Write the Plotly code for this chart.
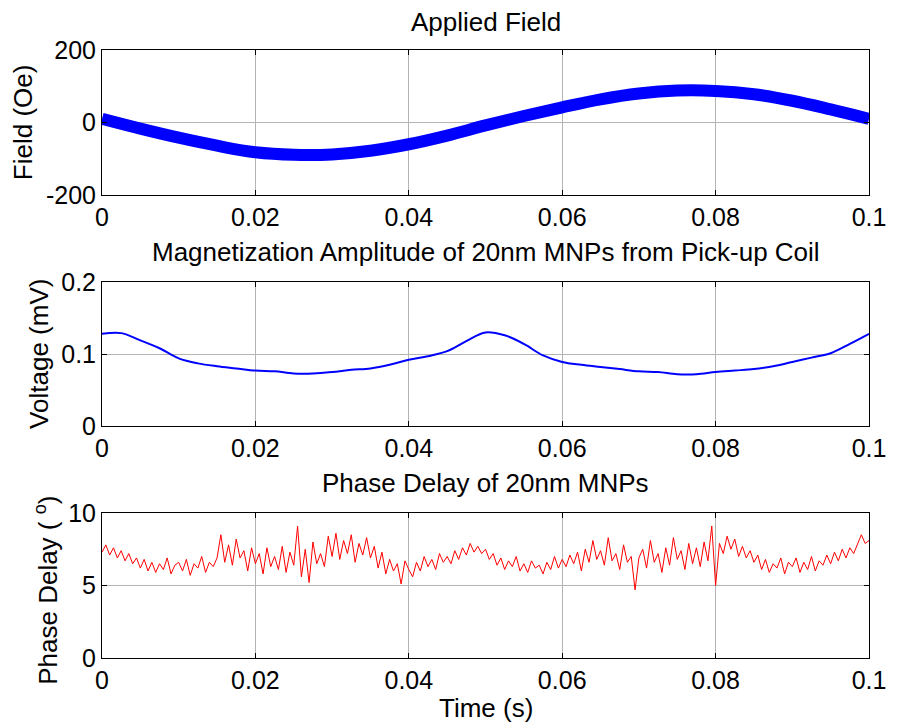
import plotly.graph_objects as go
from plotly.subplots import make_subplots

# ---- data ----
field_t = [0.000, 0.005, 0.010, 0.015, 0.020, 0.025, 0.030, 0.035, 0.040, 0.045, 0.050,
           0.055, 0.060, 0.065, 0.070, 0.075, 0.080, 0.085, 0.090, 0.095, 0.100]
field_oe = [10, -17, -42, -64, -82, -89, -88, -78, -60, -36, -8,
            18, 42, 64, 80, 88, 87, 78, 60, 36, 10]

volt_t = [i * 0.0025 for i in range(41)]
volt_mv = [0.128, 0.129, 0.119, 0.108, 0.094, 0.087, 0.083, 0.080, 0.077, 0.076,
           0.073, 0.073, 0.075, 0.078, 0.080, 0.085, 0.092, 0.097, 0.104, 0.118,
           0.130, 0.126, 0.114, 0.098, 0.089, 0.085, 0.082, 0.079, 0.076, 0.075,
           0.072, 0.072, 0.075, 0.077, 0.079, 0.083, 0.089, 0.095, 0.101, 0.114,
           0.128]

phase_t = [i * 0.0005 for i in range(201)]
phase_deg = [
    7.3, 7.8, 7.1, 7.6, 6.9, 7.4, 6.7, 7.2, 6.5, 6.9,
    6.2, 6.8, 6.0, 6.6, 5.9, 6.5, 6.1, 6.9, 5.8, 6.4,
    6.6, 6.0, 6.8, 5.7, 6.5, 6.2, 7.0, 5.9, 6.6, 6.3,
    6.9, 8.5, 6.6, 7.8, 6.4, 8.2, 6.9, 7.4, 6.0, 7.6,
    6.5, 7.2, 5.8, 7.6, 6.3, 7.0, 6.1, 7.7, 5.9, 7.3,
    6.4, 9.1, 5.6, 7.5, 5.2, 8.0, 6.5, 7.2, 6.3, 8.4,
    7.0, 8.6, 6.8, 8.1, 7.2, 8.5, 6.6, 7.9, 7.1, 8.3,
    6.9, 7.7, 6.2, 7.3, 5.8, 6.8, 6.0, 6.5, 5.1, 6.7,
    6.1, 5.6, 6.6, 6.0, 7.0, 6.3, 6.8, 6.1, 7.2, 6.6,
    7.0, 6.5, 7.4, 6.8, 7.6, 7.1, 7.9, 7.3, 7.7, 7.2,
    7.5, 6.8, 7.2, 6.4, 6.9, 6.1, 6.7, 6.3, 7.0, 6.0,
    6.5, 5.9, 6.7, 6.2, 6.4, 5.8, 6.6, 6.1, 7.0, 6.2,
    6.8, 6.3, 7.1, 6.5, 7.3, 6.0, 7.5, 6.6, 8.1, 6.8,
    7.4, 6.4, 8.3, 6.7, 7.2, 6.1, 7.8, 6.6, 7.0, 4.7,
    6.9, 7.5, 6.2, 8.1, 6.6, 7.2, 5.9, 7.6, 6.4, 8.3,
    6.8, 7.4, 6.1, 7.9, 6.5, 7.6, 6.3, 8.0, 6.7, 9.1,
    5.0, 7.9, 7.2, 8.4, 7.5, 8.2, 7.0, 7.7, 6.9, 7.4,
    6.6, 7.1, 6.1, 6.8, 5.9, 6.5, 6.2, 6.9, 5.8, 6.6,
    6.3, 6.9, 5.9, 6.6, 6.1, 7.0, 6.0, 6.7, 6.4, 7.1,
    6.5, 7.3, 6.7, 7.5, 6.9, 7.6, 7.2, 7.8, 8.5, 7.9,
    8.1,
]

x_ticks = [0, 0.02, 0.04, 0.06, 0.08, 0.1]
x_ticktext = ["0", "0.02", "0.04", "0.06", "0.08", "0.1"]
y1_ticks = [-200, 0, 200]
y2_ticks = [0, 0.1, 0.2]
y2_ticktext = ["0", "0.1", "0.2"]
y3_ticks = [0, 5, 10]

titles = ["Applied Field",
          "Magnetization Amplitude of 20nm MNPs from Pick-up Coil",
          "Phase Delay of 20nm MNPs"]
y_titles = ["Field (Oe)", "Voltage (mV)", "Phase Delay ( <sup>o</sup>)"]

FONT = "Liberation Sans, Arial, sans-serif"
FS_TICK = 25
FS_LBL = 26

fig = make_subplots(rows=3, cols=1, vertical_spacing=0.05)

fig.add_trace(go.Scatter(x=field_t, y=field_oe, mode="lines",
                         line=dict(color="rgb(0,0,255)", width=12, shape="spline"),
                         showlegend=False), row=1, col=1)
fig.add_trace(go.Scatter(x=volt_t, y=volt_mv, mode="lines",
                         line=dict(color="rgb(0,0,255)", width=2, shape="spline"),
                         showlegend=False), row=2, col=1)
fig.add_trace(go.Scatter(x=phase_t, y=phase_deg, mode="lines",
                         line=dict(color="rgb(255,0,0)", width=1),
                         showlegend=False), row=3, col=1)

domains = [[0.7615, 1.0], [0.3816, 0.6184], [0.0, 0.2385]]
yranges = [[-200, 200], [0, 0.2], [0, 10]]
ytv = [y1_ticks, y2_ticks, y3_ticks]
ytt = [["-200", "0", "200"], y2_ticktext, ["0", "5", "10"]]

common = dict(showline=True, linecolor="black", linewidth=1, mirror="ticks",
              ticks="inside", ticklen=5, tickcolor="black",
              showgrid=True, gridcolor="rgb(180,180,180)", gridwidth=1,
              zeroline=False, tickfont=dict(family=FONT, size=FS_TICK, color="black"))

for i in range(3):
    xa = "xaxis" if i == 0 else f"xaxis{i+1}"
    ya = "yaxis" if i == 0 else f"yaxis{i+1}"
    fig.layout[xa].update(range=[0, 0.1], tickvals=x_ticks, ticktext=x_ticktext, **common)
    fig.layout[ya].update(range=yranges[i], domain=domains[i], tickvals=ytv[i],
                          ticktext=ytt[i], **common)

ann = []
title_y = [22, 252, 483]
for t, yy in zip(titles, title_y):
    ann.append(dict(text=t, x=0.5, xref="paper", y=(658 - yy) / 608,
                    yref="paper", showarrow=False, yanchor="middle",
                    font=dict(family=FONT, size=FS_LBL, color="black")))
ytitle_x = [22, 38, 45]
ytitle_y = [122, 354, 590]
for t, xx, yy in zip(y_titles, ytitle_x, ytitle_y):
    ann.append(dict(text=t, x=(xx - 102) / 778, xref="paper",
                    y=(658 - yy) / 608, yref="paper", showarrow=False,
                    textangle=-90, xanchor="center", yanchor="middle",
                    font=dict(family=FONT, size=FS_LBL, color="black")))
ann.append(dict(text="Time (s)", x=0.5, xref="paper", y=(658 - 708) / 608,
                yref="paper", showarrow=False, yanchor="middle",
                font=dict(family=FONT, size=FS_LBL, color="black")))

fig.update_layout(width=898, height=725, margin=dict(l=102, r=18, t=50, b=67),
                  paper_bgcolor="white", plot_bgcolor="white",
                  annotations=ann, showlegend=False)

fig.write_html("out.html")
